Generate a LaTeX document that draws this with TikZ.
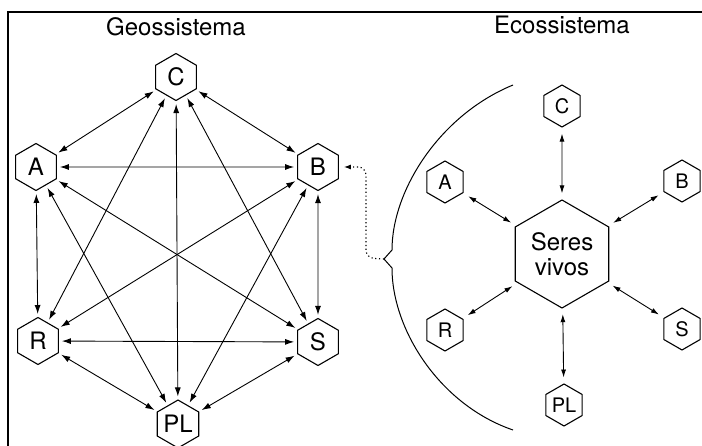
\documentclass[tikz,border=0pt]{standalone}
\usepackage{fontspec}
\setmainfont{TeX Gyre Heros}
\usetikzlibrary{shapes.geometric,arrows.meta}
\begin{document}
\begin{tikzpicture}[x=1pt,y=-1pt,
    hexa/.style={draw,regular polygon,regular polygon sides=6,shape border rotate=30,
        inner sep=0pt,minimum size=47pt,line width=1.1pt,font=\fontsize{24}{28}\selectfont},
    hexb/.style={hexa,minimum size=42pt,font=\fontsize{20}{24}\selectfont},
    link/.style={{Latex[length=9pt,width=6pt]}-{Latex[length=9pt,width=6pt]},
        line width=0.9pt,shorten <=3pt,shorten >=3pt},
    spoke/.style={{Latex[length=8pt,width=5pt]}-{Latex[length=8pt,width=5pt]},
        line width=0.9pt,shorten <=6pt,shorten >=6pt}]
    \useasboundingbox (0,0) rectangle (702,446);
    \draw[line width=1.5pt] (702,12) -- (8,12) -- (8,446);
    \node[font=\fontsize{24}{28}\selectfont] (geo) at (176,27) {Geossistema};
    \node[font=\fontsize{24}{28}\selectfont] (eco) at (562,25) {Ecossistema};
    \node[hexa] (gC) at (176,77) {C};
    \node[hexa] (gA) at (36,167) {A};
    \node[hexa] (gB) at (318,167) {B};
    \node[hexa] (gR) at (38,341) {R};
    \node[hexa] (gS) at (318,342) {S};
    \node[hexa] (gPL) at (178,424) {PL};
    \draw[link] (gC) -- (gA);
    \draw[link] (gC) -- (gB);
    \draw[link] (gC) -- (gR);
    \draw[link] (gC) -- (gS);
    \draw[link] (gC) -- (gPL);
    \draw[link] (gA) -- (gB);
    \draw[link] (gA) -- (gR);
    \draw[link] (gA) -- (gS);
    \draw[link] (gA) -- (gPL);
    \draw[link] (gB) -- (gR);
    \draw[link] (gB) -- (gS);
    \draw[link] (gB) -- (gPL);
    \draw[link] (gR) -- (gS);
    \draw[link] (gR) -- (gPL);
    \draw[link] (gS) -- (gPL);
    \node[hexa,minimum size=108pt,align=center,font=\fontsize{24}{25}\selectfont] (sv) at (562,254) {Seres\\vivos};
    \node[hexb] (eC) at (562,106) {C};
    \node[hexb] (eA) at (445,182) {A};
    \node[hexb] (eB) at (682,181) {B};
    \node[hexb] (eR) at (445,330) {R};
    \node[hexb] (eS) at (682,329) {S};
    \node[hexb] (ePL) at (564,405) {PL};
    \draw[spoke] (eC) -- (sv);
    \draw[spoke] (eA) -- (sv);
    \draw[spoke] (eB) -- (sv);
    \draw[spoke] (eR) -- (sv);
    \draw[spoke] (eS) -- (sv);
    \draw[spoke] (ePL) -- (sv);
    \coordinate (arctop) at (513,85);
    \coordinate (cusp) at (384,259);
    \coordinate (arcbot) at (513,430);
    \draw[line width=1pt] (arctop) .. controls (440,115) and (392,190) .. (392,250) -- (cusp)
        -- (392,268) .. controls (392,330) and (440,405) .. (arcbot);
    \draw[line width=1.1pt,dash pattern=on 1.2pt off 2.6pt,rounded corners=8pt,
        -{Latex[length=7pt,width=5pt]},shorten >=5pt] (cusp) -- ++(-18,-1) |- (gB.east);
\end{tikzpicture}
\end{document}
